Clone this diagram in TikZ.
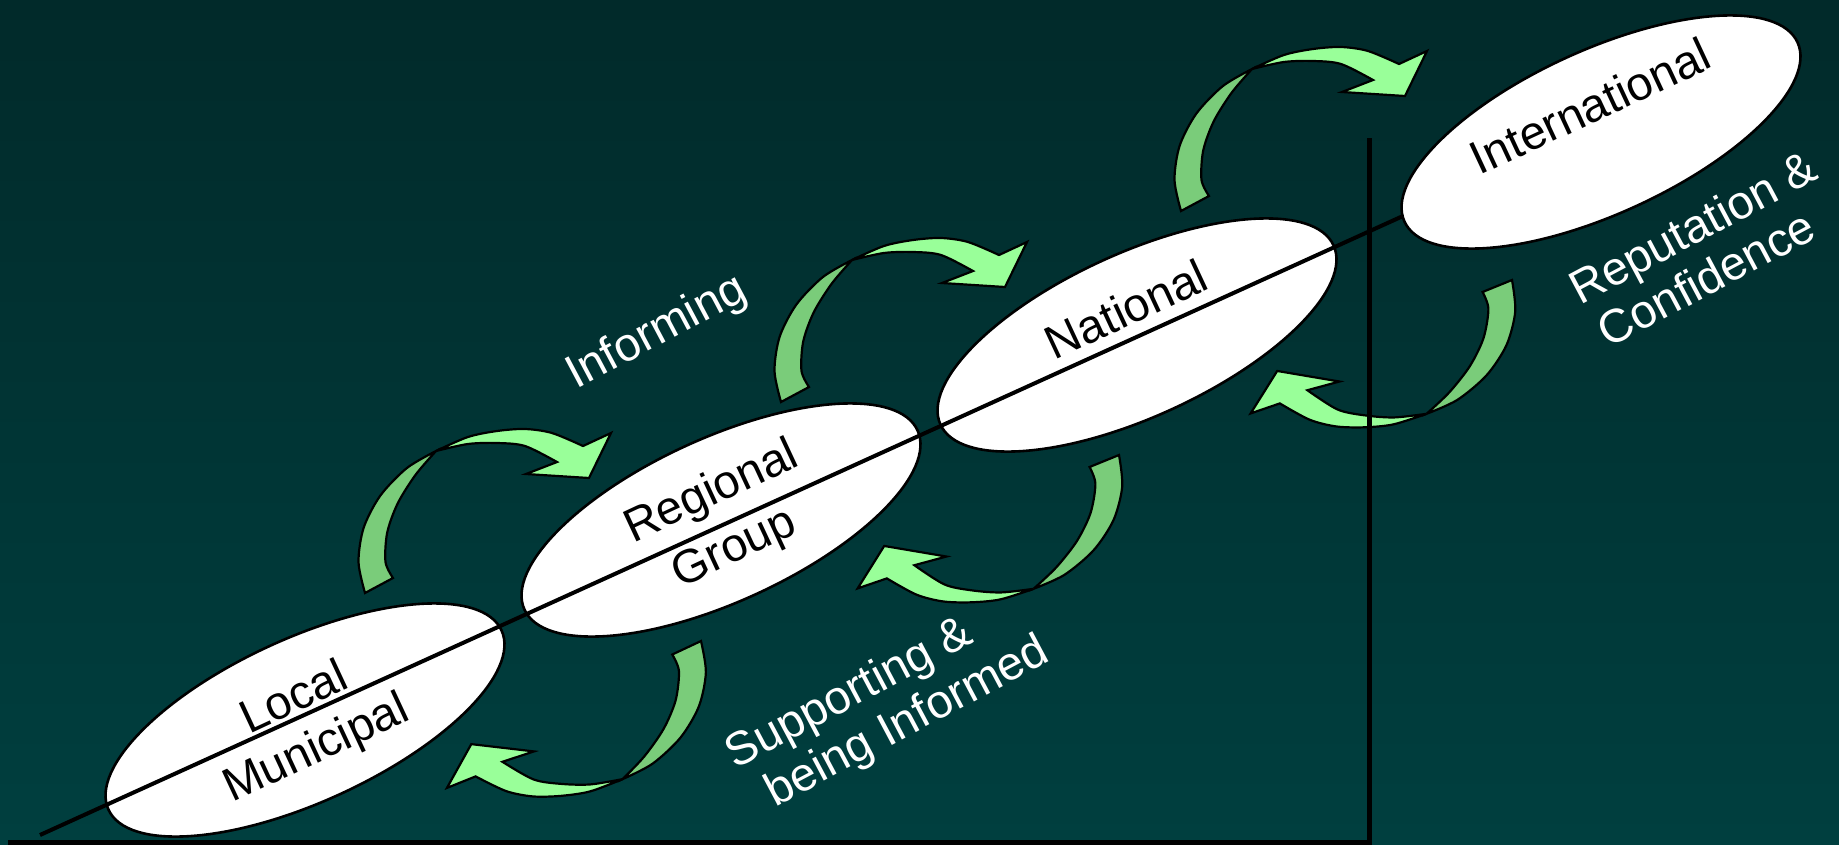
\documentclass[tikz,border=0pt]{standalone}
\usepackage{fontspec}
\setmainfont{Liberation Sans}
\usetikzlibrary{shapes.geometric}
\definecolor{bgtop}{HTML}{012A2A}
\definecolor{bgbot}{HTML}{003F3F}
\definecolor{arrdark}{HTML}{7ACC7A}
\definecolor{arrlight}{HTML}{99FF99}
\newcommand\BlockArrowShape{%
 \filldraw[darkpart] plot[smooth] coordinates {(0,0) (-6.5,-31) (-1.3,-65.4) (15.4,-97.5) (41.9,-125) (71,-142)} -- plot[smooth] coordinates {(71,-142) (50.5,-118.1) (32.7,-89.6) (22.2,-60.4) (20.5,-31) (28,-15)} -- cycle;
 \filldraw[lightpart] plot[smooth] coordinates {(71,-142) (102.9,-156) (132,-162) (160,-164) (187,-160) (218,-147)} -- (246,-160) -- (224,-115) -- (161,-119) -- plot[smooth] coordinates {(192,-131) (160,-147) (132,-150) (102.9,-149) (71,-142)} -- cycle;
}
\begin{document}
\begin{tikzpicture}[x=1pt,y=-1pt,
  ell/.style={ellipse, draw=black, line width=2.6pt, fill=white, minimum width=432pt, minimum height=164pt, inner sep=0pt, rotate=24.5},
  etext/.style={text=black, font=\fontsize{47}{56}\selectfont, rotate=25, inner sep=0pt},
  wtext/.style={text=white, font=\fontsize{47}{56}\selectfont, rotate=28, inner sep=0pt},
  darkpart/.style={fill=arrdark, draw=black, line width=2.2pt, line join=miter},
  lightpart/.style={fill=arrlight, draw=black, line width=2.2pt, line join=miter},
  axisline/.style={line width=5pt, black},
  diagline/.style={line width=4pt, black}]
\useasboundingbox (0,0) rectangle (1839,844);
\shade[top color=bgtop, bottom color=bgbot] (0,0) rectangle (1839,844);
% curved block arrows
\begin{scope}[shift={(365,593)}]\BlockArrowShape\end{scope}
\begin{scope}[shift={(781,402)}]\BlockArrowShape\end{scope}
\begin{scope}[shift={(1181,211)}]\BlockArrowShape\end{scope}
\begin{scope}[shift={(701,641)},rotate=177]\BlockArrowShape\end{scope}
\begin{scope}[shift={(1119,455)},rotate=174]\BlockArrowShape\end{scope}
\begin{scope}[shift={(1512,280)},rotate=174]\BlockArrowShape\end{scope}
% ellipses
\node[ell] (local) at (305,720) {};
\node[ell] (regional) at (721,520) {};
\node[ell] (national) at (1137,335) {};
\coordinate (lstart) at (40,835);
\coordinate (lend) at (1403,216);
\draw[diagline] (lstart) -- (lend);
\node[ell] (international) at (1601,132) {};
% axes
\coordinate (ax0) at (8,842);
\coordinate (axc) at (1369,842);
\coordinate (axtop) at (1369,138);
\draw[axisline] (ax0) -- (axc) -- (axtop);
% texts
\node[etext] (tlocal) at (293,696) {Local};
\node[etext] (tmunicipal) at (317,750) {Municipal};
\node[etext] (tregional) at (712,493) {Regional};
\node[etext] (tgroup) at (735,550) {Group};
\node[etext] (tnational) at (1126,309) {National};
\node[etext] (tinternational) at (1590,106) {International};
\node[wtext] (tinforming) at (657,333) {Informing};
\node[wtext] (tsupp) at (850,695) {Supporting \&};
\node[wtext] (tbeing) at (908,723) {being Informed};
\node[wtext] (trep) at (1695,231) {Reputation \&};
\node[wtext] (tconf) at (1706,278) {Confidence};
\end{tikzpicture}
\end{document}
